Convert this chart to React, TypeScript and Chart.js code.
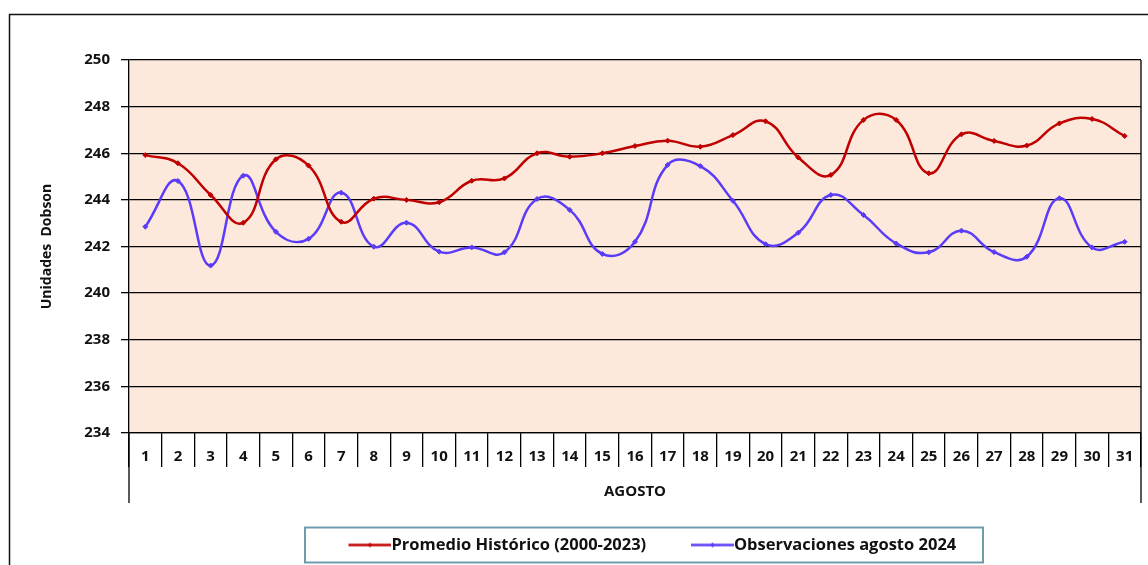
import React, { useEffect, useRef } from 'react';
import { Chart, registerables } from 'chart.js';

Chart.register(...registerables);

const dayLabels = ['1', '2', '3', '4', '5', '6', '7', '8', '9', '10', '11', '12', '13', '14', '15', '16', '17', '18', '19', '20', '21', '22', '23', '24', '25', '26', '27', '28', '29', '30', '31'];

const promedioHistorico = [245.92, 245.57, 244.21, 243.02, 245.74, 245.47, 243.06, 244.05, 244.0, 243.9, 244.82, 244.92, 246.0, 245.85, 246.0, 246.31, 246.54, 246.28, 246.78, 247.37, 245.82, 245.07, 247.43, 247.43, 245.14, 246.81, 246.53, 246.33, 247.28, 247.47, 246.74];

const observaciones2024 = [242.85, 244.81, 241.18, 245.04, 242.63, 242.33, 244.31, 241.99, 243.02, 241.78, 241.96, 241.75, 244.04, 243.57, 241.68, 242.2, 245.5, 245.45, 243.96, 242.1, 242.59, 244.21, 243.35, 242.13, 241.75, 242.68, 241.76, 241.56, 244.07, 241.96, 242.2];

const seriesNames = ['Promedio Histórico (2000-2023)', 'Observaciones agosto 2024'];
const seriesColors = ['#C00000', '#5A3CF8'];

const yMin = 234;
const yMax = 250;
const yStep = 2;

const FONT = "'Open Sans', 'DejaVu Sans', sans-serif";

function makeLegendImage(color: string): HTMLCanvasElement {
  const c = document.createElement('canvas');
  c.width = 86;
  c.height = 11;
  const g = c.getContext('2d')!;
  g.strokeStyle = color;
  g.lineWidth = 2.5;
  g.beginPath();
  g.moveTo(43, 5.5);
  g.lineTo(86, 5.5);
  g.stroke();
  g.fillStyle = color;
  g.beginPath();
  g.moveTo(64.5, 3);
  g.lineTo(67, 5.5);
  g.lineTo(64.5, 8);
  g.lineTo(62, 5.5);
  g.closePath();
  g.fill();
  return c;
}

const framePlugin = {
  id: 'frameDeco',
  beforeDraw(chart: any) {
    const { ctx, chartArea: a } = chart;
    ctx.save();
    ctx.fillStyle = '#FCE9DC';
    ctx.fillRect(a.left, a.top, a.right - a.left, a.bottom - a.top);
    ctx.restore();
  },
  afterDraw(chart: any) {
    const { ctx, chartArea: a, width, height } = chart;
    ctx.save();
    ctx.strokeStyle = '#111';
    ctx.lineWidth = 1.5;
    ctx.beginPath();
    ctx.moveTo(9.5, height);
    ctx.lineTo(9.5, 14.5);
    ctx.lineTo(width, 14.5);
    ctx.stroke();
    ctx.strokeStyle = '#000';
    ctx.lineWidth = 1.3;
    ctx.beginPath();
    ctx.moveTo(a.left, a.bottom);
    ctx.lineTo(a.left, a.bottom + 70);
    ctx.moveTo(a.right, a.top);
    ctx.lineTo(a.right, a.bottom + 70);
    ctx.stroke();
    ctx.strokeStyle = '#6E9CAD';
    ctx.lineWidth = 2;
    ctx.strokeRect(305, 527.5, 678, 35);
    ctx.restore();
  },
};

export default function App() {
  const ref = useRef<HTMLCanvasElement | null>(null);

  useEffect(() => {
    if (!ref.current) return;
    const legendImgs = seriesColors.map((c) => makeLegendImage(c));
    const chart = new Chart(ref.current, {
      type: 'line',
      data: {
        labels: dayLabels,
        datasets: [
          {
            label: seriesNames[0],
            data: promedioHistorico,
            borderColor: seriesColors[0],
            backgroundColor: seriesColors[0],
            borderWidth: 2.5,
            tension: 0.45,
            pointStyle: 'rectRot',
            pointRadius: 2.5,
            pointBorderWidth: 1,
          },
          {
            label: seriesNames[1],
            data: observaciones2024,
            borderColor: seriesColors[1],
            backgroundColor: seriesColors[1],
            borderWidth: 2.5,
            tension: 0.45,
            pointStyle: 'rectRot',
            pointRadius: 2.5,
            pointBorderWidth: 1,
          },
        ],
      },
      options: {
        responsive: false,
        animation: false,
        layout: { autoPadding: false, padding: { left: 20, right: 7, top: 60, bottom: 1.75 } },
        plugins: {
          tooltip: { enabled: false },
          legend: {
            position: 'bottom',
            fullSize: false,
            labels: {
              usePointStyle: true,
              pointStyleWidth: 69.5,
              padding: 10,
              color: '#111',
              font: { family: FONT, size: 16.5, weight: 'bold' },
              generateLabels: (ch: any) =>
                ch.data.datasets.map((ds: any, i: number) => ({
                  text: ds.label,
                  fillStyle: ds.borderColor,
                  strokeStyle: ds.borderColor,
                  lineWidth: 0,
                  pointStyle: legendImgs[i],
                  hidden: false,
                  datasetIndex: i,
                  fontColor: '#111',
                })),
            },
          },
        },
        scales: {
          x: {
            type: 'category',
            offset: true,
            afterFit: (s: any) => {
              s.height = 93.75;
            },
            grid: {
              offset: true,
              drawOnChartArea: false,
              drawTicks: true,
              tickLength: 34,
              color: '#000',
              lineWidth: 1.3,
            },
            border: { display: true, color: '#000', width: 1.3 },
            ticks: {
              padding: -19,
              color: '#111',
              maxRotation: 0,
              autoSkip: false,
              font: { family: FONT, size: 15, weight: 'bold' },
            },
            title: {
              display: true,
              text: 'AGOSTO',
              color: '#111',
              font: { family: FONT, size: 15, weight: 'bold' },
              padding: { top: 0, bottom: 25.75 },
            },
          },
          y: {
            min: yMin,
            max: yMax,
            afterFit: (s: any) => {
              s.width = 109;
            },
            ticks: {
              stepSize: yStep,
              padding: 11,
              color: '#111',
              font: { family: FONT, size: 15, weight: 'bold' },
            },
            grid: {
              color: '#000',
              lineWidth: 1.3,
              tickLength: 8,
            },
            border: { display: true, color: '#000', width: 1.3 },
            title: {
              display: true,
              text: 'Unidades  Dobson',
              color: '#111',
              font: { family: FONT, size: 14, weight: 'bold' },
              padding: { top: 18.6, bottom: 0 },
            },
          },
        },
      },
      plugins: [framePlugin],
    } as any);
    return () => chart.destroy();
  }, []);

  return (
    <div style={{ position: 'absolute', left: 0, top: 0, width: 1148, height: 565, overflow: 'hidden' }}>
      <canvas ref={ref} width={1148} height={565} style={{ display: 'block' }} />
    </div>
  );
}
